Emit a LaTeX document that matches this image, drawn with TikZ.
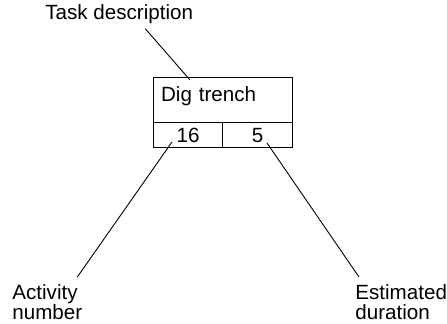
\documentclass[tikz,border=0pt]{standalone}
\usepackage{fontspec}
\setmainfont{Liberation Sans}

\begin{document}
\begin{tikzpicture}[x=0.5pt,y=-0.5pt,
    every node/.style={font=\fontsize{10.3}{10}\selectfont, inner sep=0pt},
    cell/.style={draw, line width=0.6pt},
    leader/.style={line width=0.45pt}]
    \useasboundingbox (0,0) rectangle (447,324);

    % Define the activity box: task on top, number and duration below
    \node[cell, anchor=north west, align=left, text width=62pt, inner xsep=3.75pt,
          text height=12pt, text depth=10.5pt] (dig) at (153,77) {Dig trench};
    \node[cell, anchor=north west, minimum width=34.5pt, minimum height=12.5pt] (num) at (153,122) {16};
    \node[cell, anchor=north west, minimum width=35pt, minimum height=12.5pt] (dur) at (222,122) {5};

    % Define the labels round the box
    \node[anchor=base west] (task) at (45,20) {Task description};
    \node[anchor=north west, align=left] (actlbl) at (12,284) {Activity\\number};
    \node[anchor=north west, align=left] (durlbl) at (355,284) {Estimated\\duration};

    % Define where the leaders end inside the box
    \coordinate (digpt) at (190,80);
    \coordinate (numpt) at (172,142);
    \coordinate (durpt) at (267,143);

    % Draw leaders from the labels
    \draw[leader] ([xshift=13pt,yshift=-2pt]task.south) -- (digpt);
    \draw[leader] ([xshift=15pt,yshift=3.5pt]actlbl.north) -- (numpt);
    \draw[leader] ([xshift=2pt,yshift=3.5pt]durlbl.north west) -- (durpt);
\end{tikzpicture}
\end{document}
